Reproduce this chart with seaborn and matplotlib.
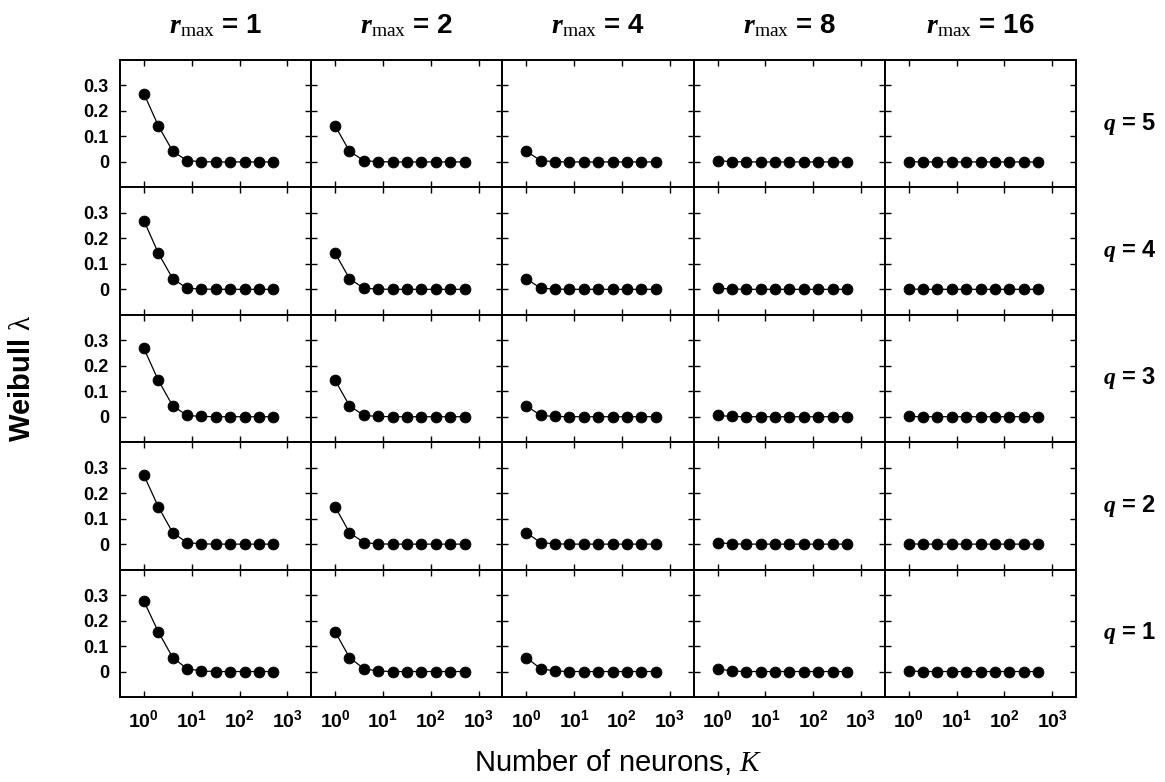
import matplotlib
matplotlib.use("Agg")
import matplotlib.pyplot as plt
from matplotlib.ticker import NullLocator
import numpy as np
import pandas as pd
import seaborn as sns

# ---------------- data ----------------
K_values = [1, 2, 4, 8, 16, 32, 64, 128, 256, 512]
rmax_values = [1, 2, 4, 8, 16]
q_values = [5, 4, 3, 2, 1]

# Weibull lambda, one list per r_max (1, 2, 4, 8, 16) for each q
lam_q5 = [
    [0.268, 0.142, 0.042, 0.005, 0.001, 0.0, 0.0, 0.0, 0.0, 0.0],
    [0.142, 0.042, 0.005, 0.001, 0.0, 0.0, 0.0, 0.0, 0.0, 0.0],
    [0.042, 0.005, 0.001, 0.0, 0.0, 0.0, 0.0, 0.0, 0.0, 0.0],
    [0.005, 0.001, 0.0, 0.0, 0.0, 0.0, 0.0, 0.0, 0.0, 0.0],
    [0.001, 0.0, 0.0, 0.0, 0.0, 0.0, 0.0, 0.0, 0.0, 0.0],
]
lam_q4 = [
    [0.270, 0.142, 0.042, 0.004, 0.001, 0.0, 0.0, 0.0, 0.0, 0.0],
    [0.142, 0.042, 0.004, 0.001, 0.0, 0.0, 0.0, 0.0, 0.0, 0.0],
    [0.042, 0.004, 0.001, 0.0, 0.0, 0.0, 0.0, 0.0, 0.0, 0.0],
    [0.004, 0.001, 0.0, 0.0, 0.0, 0.0, 0.0, 0.0, 0.0, 0.0],
    [0.001, 0.0, 0.0, 0.0, 0.0, 0.0, 0.0, 0.0, 0.0, 0.0],
]
lam_q3 = [
    [0.268, 0.143, 0.043, 0.005, 0.001, 0.0, 0.0, 0.0, 0.0, 0.0],
    [0.143, 0.043, 0.005, 0.001, 0.0, 0.0, 0.0, 0.0, 0.0, 0.0],
    [0.043, 0.005, 0.001, 0.0, 0.0, 0.0, 0.0, 0.0, 0.0, 0.0],
    [0.005, 0.001, 0.0, 0.0, 0.0, 0.0, 0.0, 0.0, 0.0, 0.0],
    [0.001, 0.0, 0.0, 0.0, 0.0, 0.0, 0.0, 0.0, 0.0, 0.0],
]
lam_q2 = [
    [0.270, 0.147, 0.045, 0.006, 0.001, 0.0, 0.0, 0.0, 0.0, 0.0],
    [0.147, 0.045, 0.006, 0.001, 0.0, 0.0, 0.0, 0.0, 0.0, 0.0],
    [0.045, 0.006, 0.001, 0.0, 0.0, 0.0, 0.0, 0.0, 0.0, 0.0],
    [0.006, 0.001, 0.0, 0.0, 0.0, 0.0, 0.0, 0.0, 0.0, 0.0],
    [0.001, 0.0, 0.0, 0.0, 0.0, 0.0, 0.0, 0.0, 0.0, 0.0],
]
lam_q1 = [
    [0.276, 0.156, 0.055, 0.011, 0.002, 0.0, 0.0, 0.0, 0.0, 0.0],
    [0.156, 0.055, 0.011, 0.002, 0.0, 0.0, 0.0, 0.0, 0.0, 0.0],
    [0.055, 0.011, 0.002, 0.0, 0.0, 0.0, 0.0, 0.0, 0.0, 0.0],
    [0.011, 0.002, 0.0, 0.0, 0.0, 0.0, 0.0, 0.0, 0.0, 0.0],
    [0.002, 0.0, 0.0, 0.0, 0.0, 0.0, 0.0, 0.0, 0.0, 0.0],
]
lam_by_q = {5: lam_q5, 4: lam_q4, 3: lam_q3, 2: lam_q2, 1: lam_q1}

x_tick_values = [1, 10, 100, 1000]
x_tick_labels = [r"$\mathsf{10^{0}}$", r"$\mathsf{10^{1}}$", r"$\mathsf{10^{2}}$", r"$\mathsf{10^{3}}$"]
y_tick_values = [0, 0.1, 0.2, 0.3]
y_tick_labels = ["0", "0.1", "0.2", "0.3"]

rows = []
for q in q_values:
    for ri, r in enumerate(rmax_values):
        for k, lam in zip(K_values, lam_by_q[q][ri]):
            rows.append({"q": q, "rmax": r, "K": k, "lam": lam})
df = pd.DataFrame(rows)

# ---------------- style ----------------
sns.set_theme(style="ticks")
plt.rcParams["font.family"] = ["Liberation Sans", "DejaVu Sans"]
plt.rcParams["text.color"] = "black"
plt.rcParams["axes.labelcolor"] = "black"
plt.rcParams["xtick.color"] = "black"
plt.rcParams["ytick.color"] = "black"
plt.rcParams["mathtext.fontset"] = "custom"
plt.rcParams["mathtext.rm"] = "Liberation Serif"
plt.rcParams["mathtext.it"] = "Liberation Serif:italic"
plt.rcParams["mathtext.bf"] = "Liberation Serif:italic:bold"
plt.rcParams["mathtext.sf"] = "Liberation Sans:bold"
plt.rcParams["axes.linewidth"] = 1.4
plt.rcParams["axes.edgecolor"] = "black"

g = sns.FacetGrid(df, row="q", col="rmax", row_order=q_values, col_order=rmax_values,
                  sharex=True, sharey=True, despine=False, height=1.5, aspect=1.5)
g.map_dataframe(sns.lineplot, x="K", y="lam", color="black", linewidth=0.9,
                marker="o", markersize=7.8, markeredgecolor="black",
                markeredgewidth=0.6, markerfacecolor="black")

fig = g.figure
fig.set_size_inches(11.65, 7.82)
fig.subplots_adjust(left=120 / 1165, right=1076 / 1165, top=1 - 60 / 782,
                    bottom=1 - 697 / 782, wspace=0, hspace=0)

g.set_titles("")
g.set_axis_labels("", "")
for i, q in enumerate(q_values):
    for j, r in enumerate(rmax_values):
        ax = g.axes[i, j]
        ax.set_xscale("log")
        ax.set_xlim(10 ** -0.5, 10 ** 3.5)
        ax.set_ylim(-0.1, 0.4)
        ax.set_xticks(x_tick_values)
        ax.xaxis.set_minor_locator(NullLocator())
        ax.set_yticks(y_tick_values)
        ax.tick_params(direction="in", top=True, right=True, length=4, width=1.0,
                       colors="black", labelsize=13)
        if i == len(q_values) - 1:
            ax.set_xticklabels(x_tick_labels)
            ax.tick_params(axis="x", pad=9, labelbottom=True, labelsize=14)
        else:
            ax.tick_params(axis="x", labelbottom=False)
        if j == 0:
            ax.set_yticklabels(y_tick_labels, fontweight="bold")
            ax.tick_params(axis="y", pad=8, labelleft=True)
        else:
            ax.tick_params(axis="y", labelleft=False)
        for s in ax.spines.values():
            s.set_visible(True)
            s.set_color("black")
        if i == 0:
            ax.text(0.5, 1.21, r"$\mathbf{r}_{\mathrm{max}}$" + f" = {r}",
                    transform=ax.transAxes, ha="center", va="baseline",
                    fontsize=20, fontweight="bold")
        if j == len(rmax_values) - 1:
            ax.text(1.28, 0.5, r"$\mathbf{q}$" + f" = {q}", transform=ax.transAxes,
                    ha="center", va="center", fontsize=17, fontweight="bold")

fig.text(618 / 1165, 1 - 762 / 782, r"Number of neurons, $K$", ha="center",
         va="center", fontsize=21)
fig.text(22 / 1165, 1 - 378 / 782, r"Weibull $\mathrm{\lambda}$", ha="center",
         va="center", rotation=90, fontsize=21, fontweight="bold")

fig.savefig("out.png", dpi=100)
